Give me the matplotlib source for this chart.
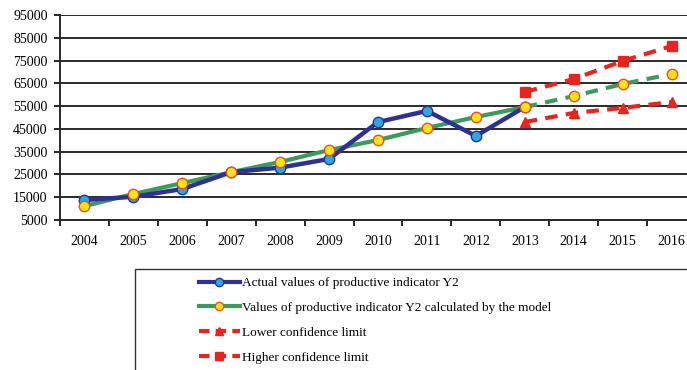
import numpy as np
import matplotlib.pyplot as plt
from matplotlib.lines import Line2D
from matplotlib.patches import Rectangle

plt.rcParams['font.family'] = ['Liberation Serif', 'DejaVu Serif']

years = ['2004', '2005', '2006', '2007', '2008', '2009', '2010',
         '2011', '2012', '2013', '2014', '2015', '2016']
actual = [13800, 15200, 18600, 26000, 28000, 31800, 48000, 52900, 41900, 54600]
model = [11100, 16400, 21200, 26000, 30500, 35700, 40100, 45400, 50200, 54600,
         59400, 64700, 69100]
lower = [48000, 52000, 54200, 56800]
upper = [61200, 66900, 74800, 81400]

x = np.arange(len(years))

fig = plt.figure(figsize=(6.87, 3.70), dpi=100)
ax = fig.add_axes([60/687, 1-220/370, 636/687, 205/370])

navy = '#2E3192'
cyan = '#2AA9E0'
green = '#3C9A5C'
yel = '#FFE21A'
orng = '#E4521F'
red = '#E8241E'

# confidence limits
ax.plot(x[9:], upper, color=red, lw=3, ls=(0, (3, 2)), marker='s', ms=6.5,
        mfc=red, mec=red, zorder=3)
ax.plot(x[9:], lower, color=red, lw=3, ls=(0, (3, 2)), marker='^', ms=6.5,
        mfc=red, mec=red, zorder=3)
# model
ax.plot(x[:10], model[:10], color=green, lw=3, zorder=4)
ax.plot(x[9:], model[9:], color=green, lw=3, ls=(0, (3, 2)), zorder=4)
# actual
ax.plot(x[:10], actual, color=navy, lw=3.2, marker='o', ms=7.5, mfc=cyan,
        mec=navy, mew=1, zorder=5)
ax.plot(x, model, ls='none', marker='o', ms=7.5, mfc=yel, mec=orng, mew=1,
        zorder=6)

ax.set_xlim(-0.5, 12.5)
ax.set_ylim(5000, 95000)
ax.set_yticks(np.arange(5000, 95001, 10000))
ax.set_xticks(x)
ax.set_xticklabels(years)
ax.set_xticks(np.arange(-0.5, 12.6, 1), minor=True)
ax.tick_params(axis='x', which='major', length=0, labelsize=10, pad=11)
ax.tick_params(axis='x', which='minor', length=4, width=1.2, direction='out')
ax.tick_params(axis='y', length=4, width=1.2, labelsize=10, pad=5)
ax.grid(axis='y', color='#2a2a2a', lw=1.4)
ax.set_axisbelow(True)
for s in ['top', 'right']:
    ax.spines[s].set_visible(False)
for s in ['left', 'bottom']:
    ax.spines[s].set_linewidth(1.4)
    ax.spines[s].set_color('#2a2a2a')

# legend box
fig.patches.append(Rectangle((135/687, -0.1), 0.9, 1-269/370+0.1,
                             transform=fig.transFigure, fill=False,
                             ec='#333333', lw=1))
handles = [
    Line2D([], [], color=navy, lw=3, marker='o', ms=6, mfc=cyan, mec=navy),
    Line2D([], [], color=green, lw=3, marker='o', ms=6, mfc=yel, mec=orng),
    Line2D([], [], color=red, lw=3, ls=(0, (2.5, 1.5)), marker='^', ms=6),
    Line2D([], [], color=red, lw=3, ls=(0, (2.5, 1.5)), marker='s', ms=6),
]
labels = ['Actual values of productive indicator Y2',
          'Values of productive indicator Y2 calculated by the model',
          'Lower confidence limit',
          'Higher confidence limit']
fig.legend(handles, labels, loc='upper left',
           bbox_to_anchor=(199/687, 1-277/370), frameon=False,
           fontsize=9.5, handlelength=3.1, handletextpad=0.15,
           labelspacing=0.95, borderpad=0, borderaxespad=0)

fig.savefig('out.png', dpi=100)
